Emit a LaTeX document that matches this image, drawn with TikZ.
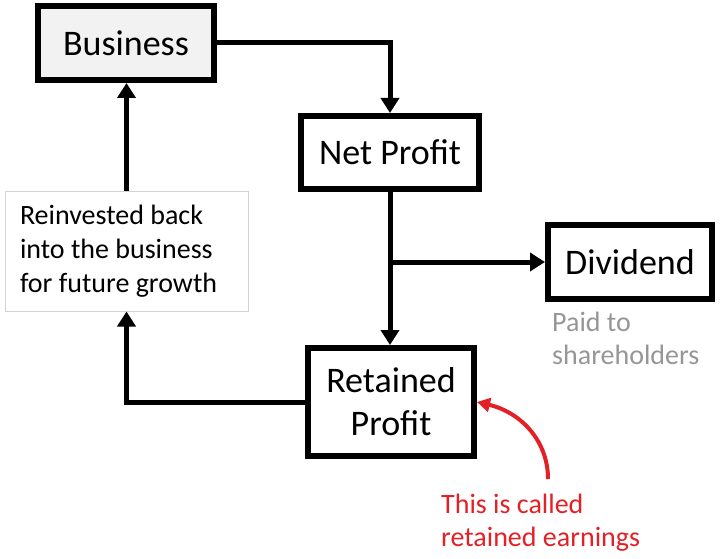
\documentclass[tikz,border=0pt]{standalone}
\usepackage{fontspec}
\setmainfont{Carlito}
\usetikzlibrary{arrows.meta}
\definecolor{redtxt}{RGB}{226,32,38}
\definecolor{greytxt}{RGB}{150,150,150}
\definecolor{bizfill}{RGB}{242,242,242}
\definecolor{thinborder}{RGB}{210,210,210}
\begin{document}
\begin{tikzpicture}[x=1pt,y=-1pt,
  boxnode/.style={draw=black,line width=6pt,rectangle,inner sep=0pt,align=center,
    font=\fontsize{36}{43}\selectfont},
  flow/.style={line width=5pt,-{Triangle[length=15pt,width=18pt]}},
  notetext/.style={inner sep=0pt,align=left,font=\fontsize{28}{33}\selectfont},
]
\useasboundingbox (0,0) rectangle (720,559);
\node[boxnode,fill=bizfill,minimum width=176pt,minimum height=74pt] (biz) at (126,43) {Business};
\node[boxnode,fill=white,minimum width=178pt,minimum height=73pt] (np) at (390,152.5) {Net Profit};
\node[boxnode,fill=white,minimum width=164pt,minimum height=74pt] (dv) at (630,262) {Dividend};
\node[boxnode,fill=white,minimum width=166pt,minimum height=108pt] (rp) at (391,402) {Retained\\Profit};
\node[draw=thinborder,line width=1pt,rectangle,inner xsep=15pt,inner ysep=0pt,
  text width=213pt,minimum height=120pt,align=flush left,
  font=\fontsize{28}{34}\selectfont] (rv) at (126.5,251) {Reinvested back\\into the business\\for future growth};
\node[notetext,text=greytxt,anchor=west] (paid) at (552,338) {Paid to\\shareholders};
\node[notetext,text=redtxt,anchor=west] (note) at (441,523) {This is called\\retained earnings};
\coordinate (junc) at (np.south |- dv.west);
\coordinate (redstart) at (548,479);
\draw[flow] (biz.east) -| (np.north);
\draw[flow] (np.south) -- (np.south |- rp.north);
\draw[flow] (junc) -- (dv.west);
\draw[flow] (rp.west) -| (rv.south);
\draw[flow] (rv.north) -- (rv.north |- biz.south);
\draw[redtxt,line width=4pt,-{Triangle[length=13pt,width=14pt]}] (redstart) .. controls (548,440) and (520,412) .. (rp.east);
\end{tikzpicture}
\end{document}
